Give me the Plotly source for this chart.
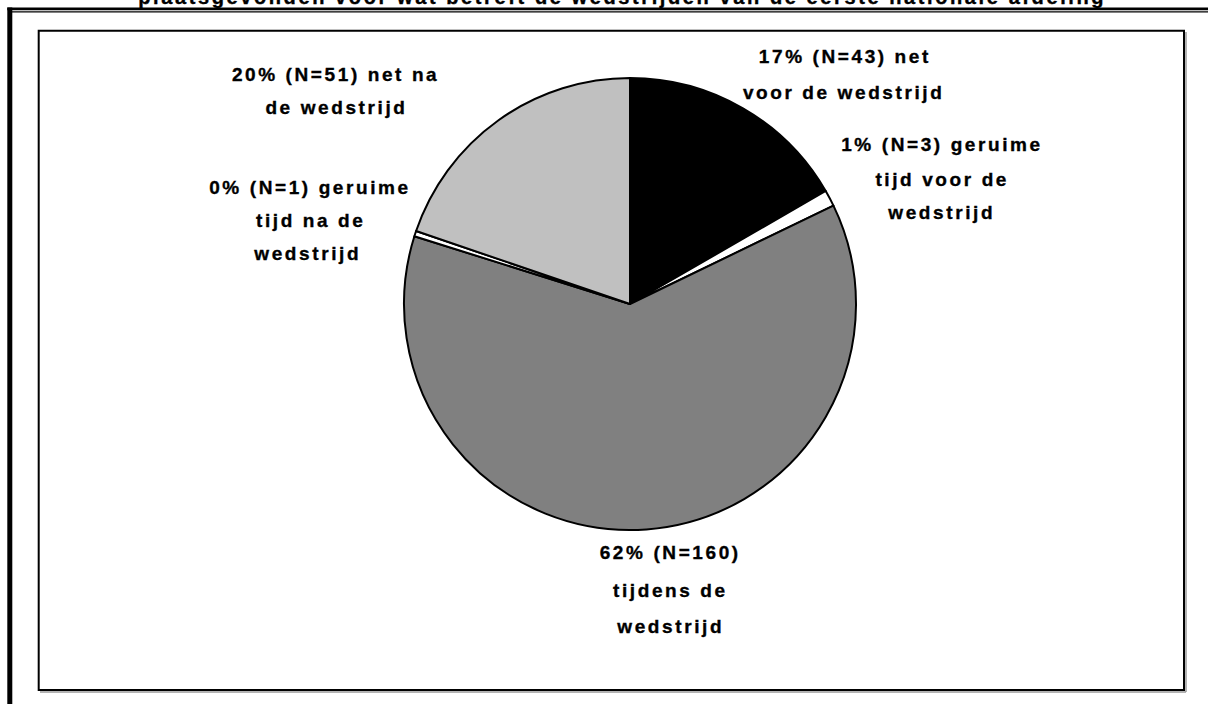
import plotly.graph_objects as go

# ---- data ----
categories = ["net voor de wedstrijd", "geruime tijd voor de wedstrijd",
              "tijdens de wedstrijd", "geruime tijd na de wedstrijd",
              "net na de wedstrijd"]
counts = [43, 3, 160, 1, 51]
percents = [17, 1, 62, 0, 20]
slice_colors = ["#000000", "#ffffff", "#808080", "#ffffff", "#c0c0c0"]
label_lines = [
    ["{p}% (N={n}) net", "voor de wedstrijd"],
    ["{p}% (N={n}) geruime", "tijd voor de", "wedstrijd"],
    ["{p}% (N={n})", "tijdens de", "wedstrijd"],
    ["{p}% (N={n}) geruime", "tijd na de", "wedstrijd"],
    ["{p}% (N={n}) net na", "de wedstrijd"],
]
title_text = "plaatsgevonden voor wat betreft de wedstrijden van de eerste nationale afdeling"

# ---- layout (pixel positions of label line centres) ----
W, H = 1208, 704
label_pos = [
    [(845, 57), (843, 93)],
    [(942, 145), (942, 179), (941, 212)],
    [(670, 552), (670, 590), (670, 626)],
    [(310, 187), (310, 220), (307, 253)],
    [(336, 74), (336, 107)],
]
FONT = "Liberation Sans, Arial, sans-serif"
FS = 19
TITLE_FS = 20


def px(x):
    return x / W


def py(y):
    return 1 - y / H


cx, cy, r = 630, 304, 226

fig = go.Figure(go.Pie(
    labels=categories,
    values=counts,
    sort=False,
    direction="clockwise",
    rotation=0,
    textinfo="none",
    hoverinfo="label+value+percent",
    marker=dict(colors=slice_colors, line=dict(color="#000000", width=2)),
    domain=dict(x=[px(cx - r), px(cx + r)], y=[py(cy + r), py(cy - r)]),
    showlegend=False,
))

annotations = []
for lines, poss, p, n in zip(label_lines, label_pos, percents, counts):
    for line, (x, y) in zip(lines, poss):
        annotations.append(dict(
            x=px(x), y=py(y), xref="paper", yref="paper",
            xanchor="center", yanchor="middle", showarrow=False,
            text="<b>" + line.format(p=p, n=n) + "</b>",
            font=dict(family=FONT, size=FS, color="#000000"),
        ))

annotations.append(dict(
    x=px(622), y=py(-3), xref="paper", yref="paper",
    xanchor="center", yanchor="middle", showarrow=False,
    text="<b>" + title_text + "</b>",
    font=dict(family=FONT, size=TITLE_FS, color="#000000"),
))

shapes = [
    # outer frame: thick left line
    dict(type="rect", xref="paper", yref="paper", x0=px(7.3), x1=px(12.3), y0=py(7.5), y1=py(H + 5),
         fillcolor="#000000", line=dict(width=0)),
    # outer frame: top double line
    dict(type="rect", xref="paper", yref="paper", x0=px(7.3), x1=px(W + 5), y0=py(7.5), y1=py(10.3),
         fillcolor="#000000", line=dict(width=0)),
    dict(type="rect", xref="paper", yref="paper", x0=px(12), x1=px(W + 5), y0=py(11.2), y1=py(12.5),
         fillcolor="#000000", line=dict(width=0)),
    # inner plot box shadow
    dict(type="line", xref="paper", yref="paper", x0=px(1186), x1=px(1186), y0=py(32), y1=py(692),
         line=dict(color="#9a9a9a", width=1.5)),
    dict(type="line", xref="paper", yref="paper", x0=px(40), x1=px(1186), y0=py(692), y1=py(692),
         line=dict(color="#9a9a9a", width=1.5)),
    # inner plot box
    dict(type="rect", xref="paper", yref="paper", x0=px(38.7), x1=px(1184), y0=py(690), y1=py(30.8),
         line=dict(color="#000000", width=2), fillcolor="rgba(0,0,0,0)"),
]

fig.update_layout(
    width=W, height=H,
    margin=dict(l=0, r=0, t=0, b=0),
    paper_bgcolor="#ffffff", plot_bgcolor="#ffffff",
    annotations=annotations,
    shapes=shapes,
)

post = """
document.body.style.margin = '0';
document.body.style.padding = '0';
var gd = document.getElementById('{plot_id}');
gd.querySelectorAll('.annotation-text').forEach(function(t){
  t.style.letterSpacing = '2.6px';
  t.style.stroke = '#000';
  t.style.strokeWidth = '0.35px';
});
"""
fig.write_html("out.html", post_script=post, config={"displayModeBar": False})
